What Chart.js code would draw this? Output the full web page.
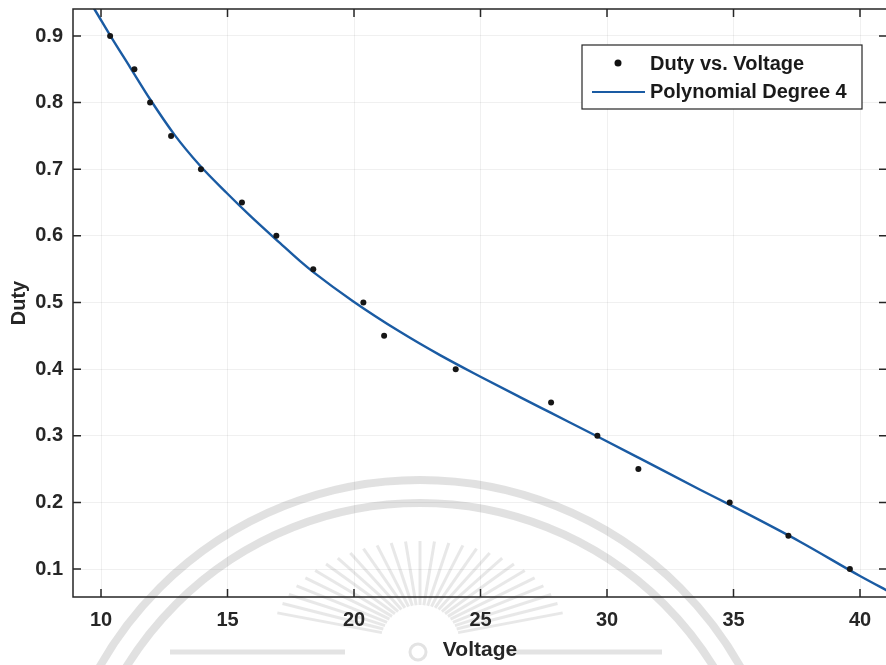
<!DOCTYPE html>
<html><head><meta charset="utf-8">
<script src="https://cdn.jsdelivr.net/npm/chart.js@4.4.1/dist/chart.umd.min.js"></script>
<style>
html,body{margin:0;padding:0;background:#fff;overflow:hidden;width:886px;height:665px}
#wrap{position:absolute;left:0;top:0;width:900px;height:665px}
</style>
</head><body>
<div id="wrap"><canvas id="c" width="900" height="665"></canvas></div>
<script>
// ---- data ----
const voltage = [10.36, 11.32, 11.94, 12.77, 13.95, 15.57, 16.93, 18.39, 20.37, 21.19, 24.02, 27.79, 29.62, 31.24, 34.85, 37.17, 39.6];
const duty    = [0.90, 0.85, 0.80, 0.75, 0.70, 0.65, 0.60, 0.55, 0.50, 0.45, 0.40, 0.35, 0.30, 0.25, 0.20, 0.15, 0.10];
const fitVoltage = [9.5, 9.76, 10.36, 11.15, 11.94, 12.9, 13.9, 14.98, 15.9, 17.08, 17.87, 18.38, 19.96, 21.82, 23.4, 24.98, 26.56, 27.75, 29.72, 31.3, 33.68, 34.98, 37.63, 40.0, 41.2];
const fitDuty    = [0.955, 0.939, 0.901, 0.853, 0.805, 0.752, 0.706, 0.664, 0.630, 0.589, 0.562, 0.546, 0.502, 0.456, 0.421, 0.389, 0.358, 0.335, 0.297, 0.266, 0.219, 0.194, 0.141, 0.0895, 0.065];
const xTicks = [10, 15, 20, 25, 30, 35, 40];
const yTicks = [0.1, 0.2, 0.3, 0.4, 0.5, 0.6, 0.7, 0.8, 0.9];
const pointsName = 'Duty vs. Voltage';
const fitName = 'Polynomial Degree 4';
const xTitle = 'Voltage';
const yTitle = 'Duty';

const FONT = '"Liberation Sans", Arial, Helvetica, sans-serif';
const INK = '#262626';
const BLUE = '#1a5ba3';

const sealPlugin = {
  id: 'seal',
  beforeDraw(chart) {
    const ctx = chart.ctx;
    ctx.save();
    ctx.strokeStyle = 'rgba(200,200,200,0.55)';
    ctx.lineWidth = 8;
    ctx.beginPath(); ctx.arc(420, 848, 368, Math.PI, 2 * Math.PI); ctx.stroke();
    ctx.beginPath(); ctx.arc(420, 848, 345, Math.PI, 2 * Math.PI); ctx.stroke();
    ctx.lineWidth = 3;
    ctx.strokeStyle = 'rgba(205,205,205,0.45)';
    for (let i = 0; i <= 26; i++) {
      const a = (-162 + i * (144 / 26)) * Math.PI / 180;
      const rx = 150, ry = 104;
      const ox = 420 + rx * Math.cos(a), oy = 645 + ry * Math.sin(a);
      const ix = 420 + 40 * Math.cos(a), iy = 645 + 40 * Math.sin(a);
      ctx.beginPath(); ctx.moveTo(ix, iy); ctx.lineTo(ox, oy); ctx.stroke();
    }
    ctx.lineWidth = 5;
    ctx.strokeStyle = 'rgba(200,200,200,0.5)';
    ctx.beginPath(); ctx.moveTo(170, 652); ctx.lineTo(345, 652); ctx.stroke();
    ctx.beginPath(); ctx.moveTo(508, 652); ctx.lineTo(662, 652); ctx.stroke();
    ctx.lineWidth = 3;
    ctx.beginPath(); ctx.arc(418, 652, 8, 0, 2 * Math.PI); ctx.stroke();
    ctx.restore();
  }
};

const framePlugin = {
  id: 'frame',
  afterDatasetsDraw(chart) {
    const ctx = chart.ctx, a = chart.chartArea;
    const xs = chart.scales.x, ys = chart.scales.y;
    ctx.save();
    ctx.strokeStyle = INK;
    ctx.lineWidth = 1.5;
    ctx.strokeRect(a.left, a.top, a.right - a.left, a.bottom - a.top);
    const L = 8;
    ctx.beginPath();
    xTicks.forEach(v => {
      const p = xs.getPixelForValue(v);
      ctx.moveTo(p, a.bottom); ctx.lineTo(p, a.bottom - L);
      ctx.moveTo(p, a.top); ctx.lineTo(p, a.top + L);
    });
    yTicks.forEach(v => {
      const p = ys.getPixelForValue(v);
      ctx.moveTo(a.left, p); ctx.lineTo(a.left + L, p);
      ctx.moveTo(a.right, p); ctx.lineTo(a.right - L, p);
    });
    ctx.stroke();
    ctx.restore();
  },
  afterDraw(chart) {
    const ctx = chart.ctx;
    ctx.save();
    const bx = 582, by = 45, bw = 280, bh = 64;
    ctx.fillStyle = '#fff';
    ctx.fillRect(bx, by, bw, bh);
    ctx.strokeStyle = INK; ctx.lineWidth = 1.2;
    ctx.strokeRect(bx, by, bw, bh);
    ctx.fillStyle = '#111';
    ctx.beginPath(); ctx.arc(618, 63, 3.5, 0, 2 * Math.PI); ctx.fill();
    ctx.strokeStyle = BLUE; ctx.lineWidth = 2.2;
    ctx.beginPath(); ctx.moveTo(592, 92); ctx.lineTo(645, 92); ctx.stroke();
    ctx.fillStyle = '#1a1a1a';
    ctx.font = 'bold 20px ' + FONT;
    ctx.textBaseline = 'middle'; ctx.textAlign = 'left';
    ctx.fillText(pointsName, 650, 64);
    ctx.fillText(fitName, 650, 92);
    ctx.restore();
  }
};

new Chart(document.getElementById('c'), {
  type: 'scatter',
  data: {
    datasets: [
      {
        label: fitName,
        data: fitVoltage.map((v, i) => ({ x: v, y: fitDuty[i] })),
        showLine: true,
        borderColor: BLUE,
        borderWidth: 2.4,
        pointRadius: 0,
        cubicInterpolationMode: 'monotone',
        order: 2
      },
      {
        label: pointsName,
        data: voltage.map((v, i) => ({ x: v, y: duty[i] })),
        showLine: false,
        pointRadius: 3,
        pointBorderWidth: 0,
        pointBackgroundColor: '#161616',
        order: 1
      }
    ]
  },
  options: {
    responsive: false,
    animation: false,
    devicePixelRatio: 1,
    layout: { padding: { left: 0, right: 13, top: 9, bottom: 0 } },
    plugins: { legend: { display: false }, tooltip: { enabled: false } },
    scales: {
      x: {
        type: 'linear', min: 8.893, max: 41.067,
        afterBuildTicks: s => { s.ticks = xTicks.map(v => ({ value: v })); },
        afterFit: s => { s.height = 68; s.paddingLeft = 0; s.paddingRight = 0; },
        ticks: { font: { family: FONT, size: 20, weight: 'bold' }, color: INK, padding: 11, maxRotation: 0, autoSkip: false },
        grid: { color: 'rgba(0,0,0,0.06)', drawTicks: false },
        border: { display: false },
        title: { display: true, text: xTitle, color: INK, font: { family: FONT, size: 21, weight: 'bold' }, padding: { top: 0, bottom: 2 } }
      },
      y: {
        type: 'linear', min: 0.058, max: 0.9405,
        afterBuildTicks: s => { s.ticks = yTicks.map(v => ({ value: v })); },
        afterFit: s => { s.width = 73; s.paddingTop = 0; s.paddingBottom = 0; },
        ticks: { font: { family: FONT, size: 20, weight: 'bold' }, color: INK, padding: 10, autoSkip: false, callback: v => v.toFixed(1) },
        grid: { color: 'rgba(0,0,0,0.06)', drawTicks: false },
        border: { display: false },
        title: { display: true, text: yTitle, color: INK, font: { family: FONT, size: 20, weight: 'bold' }, padding: { top: 7, bottom: 0 } }
      }
    }
  },
  plugins: [sealPlugin, framePlugin]
});
</script>
</body></html>
